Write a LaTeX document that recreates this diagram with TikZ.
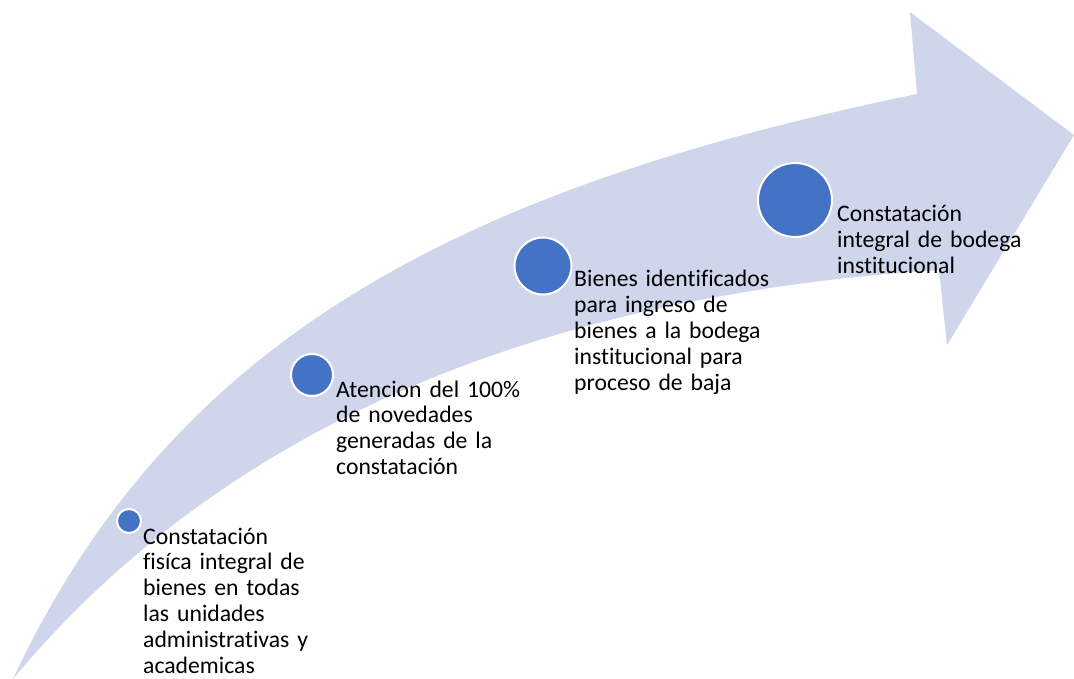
\documentclass[tikz,border=0pt]{standalone}
\usepackage{fontspec}
\setmainfont[Ligatures=NoCommon]{Carlito}
\definecolor{arrowfill}{RGB}{207,213,234}
\definecolor{dotblue}{RGB}{68,114,196}

\begin{document}
\begin{tikzpicture}[x=1pt,y=-1pt,
  every node/.style={font=\fontsize{23.7}{25.9}\selectfont},
  dot/.style={circle,draw=white,line width=2pt,fill=dotblue,inner sep=0pt},
  steptext/.style={anchor=base west,align=left,text width=230pt,inner sep=0pt}]
  \useasboundingbox (0,0) rectangle (1074,679);
  % ascending arrow
  \fill[arrowfill] (13,679) .. controls (170,344) and (450,190) .. (917,94)
    -- (910,12) -- (1074,135) -- (947,345) -- (939,270)
    .. controls (525,297) and (217,434) .. cycle;
  % milestones
  \node[dot,minimum size=24pt] (m1) at (129,521) {};
  \node[dot,minimum size=42pt] (m2) at (312,375) {};
  \node[dot,minimum size=57pt] (m3) at (543,266) {};
  \node[dot,minimum size=74pt] (m4) at (795,200) {};
  \node[steptext] (t1) at (143,544) {Constatación\\fisíca integral de\\bienes en todas\\las unidades\\administrativas y\\academicas};
  \node[steptext] (t2) at (336,397) {Atencion del 100\%\\de novedades\\generadas de la\\constatación};
  \node[steptext] (t3) at (574,287) {Bienes identificados\\para ingreso de\\bienes a la bodega\\institucional para\\proceso de baja};
  \node[steptext] (t4) at (837,222) {Constatación\\integral de bodega\\institucional};
\end{tikzpicture}
\end{document}
